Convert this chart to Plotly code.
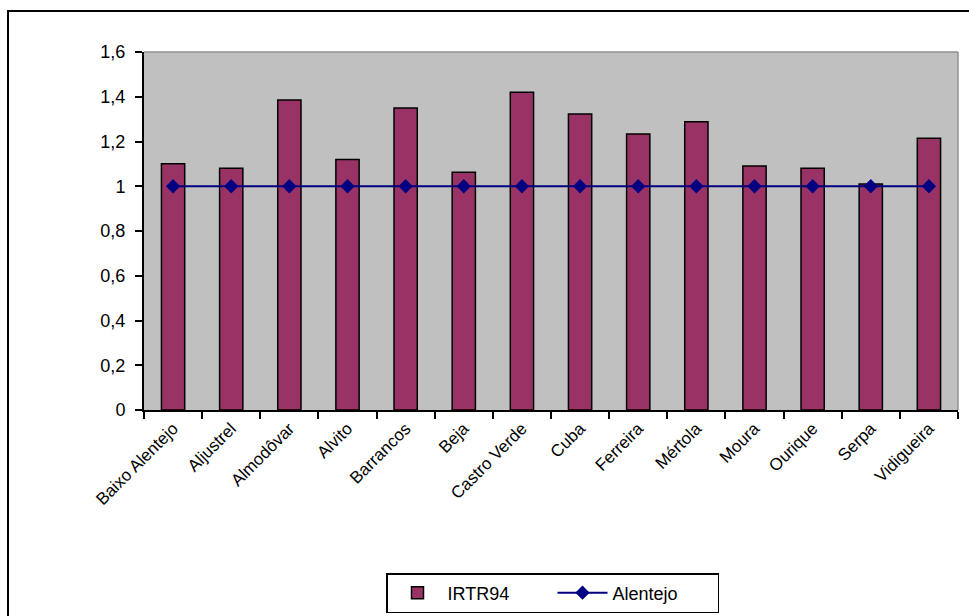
import plotly.graph_objects as go

categories = ["Baixo Alentejo", "Aljustrel", "Almodôvar", "Alvito", "Barrancos", "Beja",
              "Castro Verde", "Cuba", "Ferreira", "Mértola", "Moura", "Ourique", "Serpa", "Vidigueira"]
irtr94 = [1.10, 1.08, 1.385, 1.12, 1.35, 1.063, 1.42, 1.323, 1.234, 1.288, 1.09, 1.08, 1.01, 1.215]
alentejo = [1, 1, 1, 1, 1, 1, 1, 1, 1, 1, 1, 1, 1, 1]
y_ticks = [0, 0.2, 0.4, 0.6, 0.8, 1, 1.2, 1.4, 1.6]
y_tick_labels = ["0", "0,2", "0,4", "0,6", "0,8", "1", "1,2", "1,4", "1,6"]

W, H = 969, 616
L, R, T, B = 144, 958, 52, 410

fig = go.Figure()
fig.add_trace(go.Bar(
    x=categories, y=irtr94, name="IRTR94",
    marker=dict(color="#993366", line=dict(color="black", width=1.5)),
))
fig.add_trace(go.Scatter(
    x=categories, y=alentejo, name="Alentejo", mode="lines+markers",
    line=dict(color="#000080", width=2),
    marker=dict(symbol="diamond", size=11, color="#000080"),
))

pw, ph = R - L, B - T
def px(x):
    return (x - L) / pw
def py(y):
    return (B - y) / ph

fig.update_layout(
    width=W, height=H,
    margin=dict(l=L, r=W - R, t=T, b=H - B, autoexpand=False),
    paper_bgcolor="white",
    plot_bgcolor="#C0C0C0",
    font=dict(family="Liberation Sans, Arial, sans-serif", size=17, color="black"),
    bargap=0.6,
    showlegend=True,
    legend=dict(
        orientation="h", x=px(386), y=py(573), xanchor="left", yanchor="top",
        bordercolor="black", borderwidth=1.5, bgcolor="white",
        font=dict(size=18), itemwidth=50, entrywidth=100,
    ),
    xaxis=dict(
        tickangle=-45, showgrid=False, showline=True, linecolor="black", linewidth=2,
        ticks="outside", tickson="boundaries", ticklen=7, tickcolor="black", tickwidth=1.5,
        tickfont=dict(size=17), range=[-0.5, 13.5], automargin=False,
    ),
    yaxis=dict(
        range=[0, 1.6], tickvals=y_ticks, ticktext=y_tick_labels, showgrid=False,
        showline=True, linecolor="black", linewidth=2, ticks="outside", ticklen=7,
        tickcolor="black", tickwidth=1.5, zeroline=False, tickfont=dict(size=18),
        ticklabelstandoff=6, automargin=False,
    ),
    shapes=[
        dict(type="rect", xref="paper", yref="paper", x0=px(8), y0=py(630), x1=px(990), y1=py(11),
             line=dict(color="black", width=2), fillcolor="rgba(0,0,0,0)", layer="below"),
        dict(type="line", xref="paper", yref="paper", x0=0, y0=1, x1=1, y1=1,
             line=dict(color="#909090", width=1.5)),
        dict(type="line", xref="paper", yref="paper", x0=1, y0=0, x1=1, y1=1,
             line=dict(color="#909090", width=1.5)),
    ],
)

fig.write_html("out.html", config={"displayModeBar": False},
               post_script="document.body.style.margin='0';document.body.style.overflow='hidden';")
